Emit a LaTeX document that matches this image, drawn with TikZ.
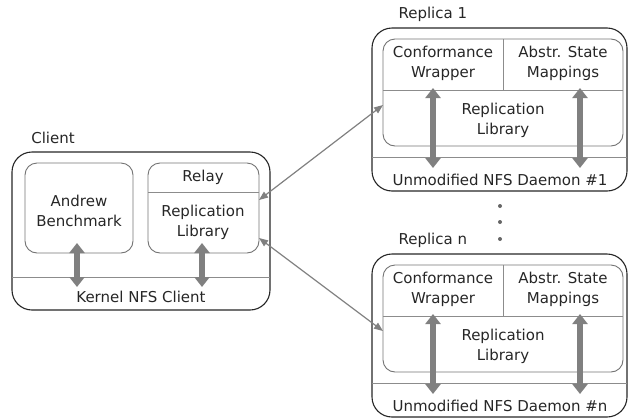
\documentclass[tikz,border=0pt]{standalone}
\usepackage{fontspec}
\setmainfont{DejaVu Sans}
\usetikzlibrary{arrows.meta}

\begin{document}
\begin{tikzpicture}[x=1pt, y=-1pt, every node/.style={font=\fontsize{15}{20}\selectfont, text=black!85, align=center},
	outerbox/.style={draw=black!85, line width=1.1pt, rounded corners=20pt},
	innerbox/.style={draw=black!55, line width=0.9pt, rounded corners=12pt},
	divider/.style={draw=black!45, line width=0.9pt},
	bigarrow/.style={draw=black!50, line width=6pt, {Triangle[length=10pt,width=15pt]}-{Triangle[length=10pt,width=15pt]}},
	link/.style={draw=black!50, line width=1.2pt, {Triangle[length=9pt,width=7pt]}-{Triangle[length=9pt,width=7pt]}}]
	\useasboundingbox (0,0) rectangle (629,418);
	% client machine
	\node (client) at (53,138) {Client};
	\draw[outerbox] (12,152) rectangle (270,310);
	\draw[divider] (12,277) -- (270,277);
	\draw[innerbox] (25,163) rectangle (133,253);
	\draw[innerbox] (148,163) rectangle (259,253);
	\draw[divider] (148,192) -- (259,192);
	\node (andrew) at (79,211) {Andrew\\Benchmark};
	\node (relay) at (203,177) {Relay};
	\node (clientlib) at (203,222) {Replication\\Library};
	\node (kernel) at (141,297) {Kernel NFS Client};
	\coordinate (andrewtop) at (77,243);
	\coordinate (andrewbot) at (77,287);
	\coordinate (relaytop) at (202,243);
	\coordinate (relaybot) at (202,287);
	\draw[bigarrow] (andrewtop) -- (andrewbot);
	\draw[bigarrow] (relaytop) -- (relaybot);
	\coordinate (relayout1) at (259,200);
	\coordinate (relayoutn) at (259,238);
	% replicas
	\foreach \yo/\num in {0/1, 226/n} {
		\begin{scope}[shift={(0,\yo)}]
			\node[anchor=west] (label\num) at (395,14) {Replica \num};
			\draw[outerbox] (372,28) rectangle (627,191);
			\draw[divider] (372,157) -- (627,157);
			\draw[innerbox] (383,39) rectangle (623,146);
			\draw[divider] (383,90) -- (623,90);
			\draw[divider] (503,39) -- (503,90);
			\node (conf\num) at (443,63) {Conformance\\Wrapper};
			\node (abstr\num) at (563,63) {Abstr. State\\Mappings};
			\node (replib\num) at (503,120) {Replication\\Library};
			\node (daemon\num) at (500,180) {Unmodified NFS Daemon \#\num};
			\coordinate (wraptop\num) at (433,88);
			\coordinate (wrapbot\num) at (433,168);
			\coordinate (maptop\num) at (580,88);
			\coordinate (mapbot\num) at (580,168);
			\coordinate (replin\num) at (383,105);
			\draw[bigarrow] (wraptop\num) -- (wrapbot\num);
			\draw[bigarrow] (maptop\num) -- (mapbot\num);
		\end{scope}
	}
	\draw[link] (relayout1) -- (replin1);
	\draw[link] (relayoutn) -- (replinn);
	% dots between replicas
	\fill[black!60] (500,206) circle (2pt);
	\fill[black!60] (500,222) circle (2pt);
	\fill[black!60] (500,239) circle (2pt);
\end{tikzpicture}
\end{document}
